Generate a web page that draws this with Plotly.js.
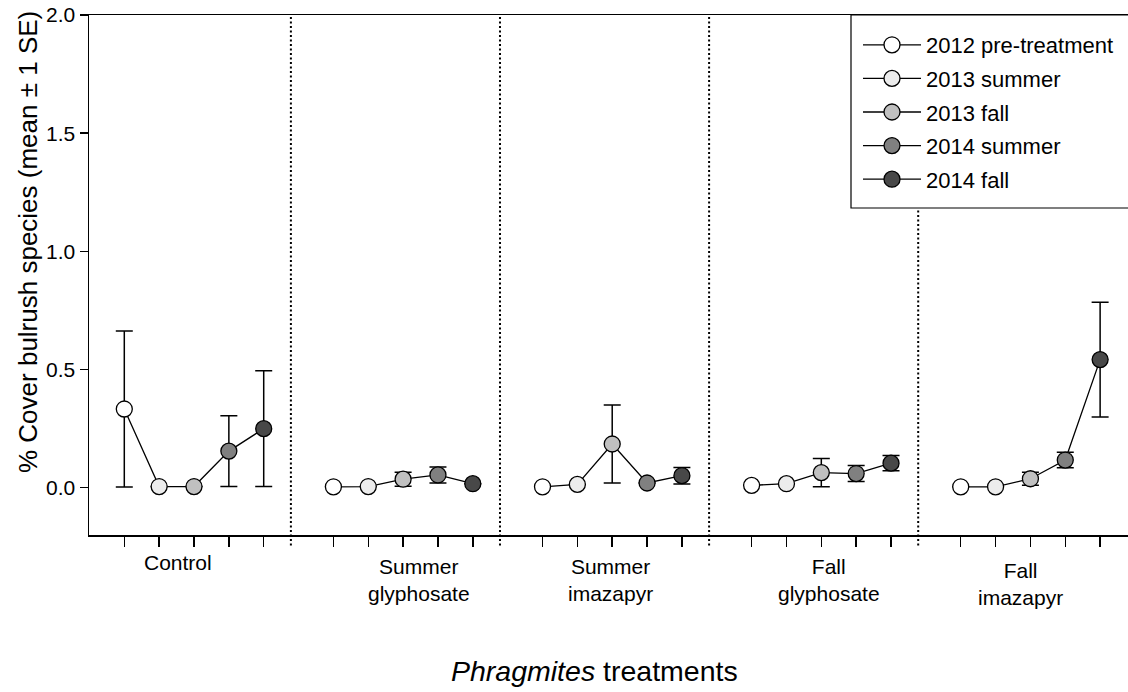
<!DOCTYPE html>
<html>
<head>
<meta charset="utf-8">
<script src="https://cdn.plot.ly/plotly-3.0.1.min.js"></script>
<style>html,body{margin:0;padding:0;background:#fff;}#chart{width:1128px;height:692px;}</style>
</head>
<body>
<div id="chart"></div>
<script>
// ---- data ----
const treatments = ["Control", "Summer glyphosate", "Summer imazapyr", "Fall glyphosate", "Fall imazapyr"];
const treatmentLabels = ["Control", "Summer<br>glyphosate", "Summer<br>imazapyr", "Fall<br>glyphosate", "Fall<br>imazapyr"];
const years = ["2012 pre-treatment", "2013 summer", "2013 fall", "2014 summer", "2014 fall"];
// mean % cover, one array per year, in treatment order
const mean2012pre  = [0.333, 0.004, 0.004, 0.010, 0.004];
const mean2013sum  = [0.005, 0.005, 0.014, 0.017, 0.004];
const mean2013fall = [0.005, 0.036, 0.185, 0.064, 0.038];
const mean2014sum  = [0.155, 0.054, 0.020, 0.060, 0.117];
const mean2014fall = [0.250, 0.017, 0.051, 0.104, 0.542];
// ±1 SE
const se2012pre  = [0.330, 0, 0, 0, 0];
const se2013sum  = [0, 0, 0, 0, 0];
const se2013fall = [0, 0.030, 0.165, 0.060, 0.028];
const se2014sum  = [0.150, 0.034, 0, 0.034, 0.033];
const se2014fall = [0.245, 0, 0.035, 0.032, 0.243];
const yTickVals = [0, 0.5, 1.0, 1.5, 2.0];
const yTickText = ["0.0", "0.5", "1.0", "1.5", "2.0"];

// ---- styling / layout helpers ----
const means = [mean2012pre, mean2013sum, mean2013fall, mean2014sum, mean2014fall];
const ses = [se2012pre, se2013sum, se2013fall, se2014sum, se2014fall];
const fills = ["#ffffff", "#ececec", "#c0c0c0", "#808080", "#484848"];
const FONT = "Liberation Sans, Arial, Helvetica, sans-serif";
const GROUP_STEP = 6;             // 5 positions + 1 empty slot between treatments
const base = t => t * GROUP_STEP;

const W = 1128, H = 692, ML = 89, MT = 15, MB = 157;
const plotW = W - ML, plotH = H - MT - MB;
const py = ypix => (H - MB - ypix) / plotH;   // pixel row -> paper y
const px = xpix => (xpix - ML) / plotW;       // pixel column -> paper x

const traces = [];
// connecting line within each treatment
treatments.forEach((name, t) => {
  traces.push({
    type: "scatter", mode: "lines",
    x: years.map((_, k) => base(t) + k),
    y: years.map((_, k) => means[k][t]),
    line: {color: "#000", width: 1.3},
    showlegend: false, hoverinfo: "skip"
  });
});
// one marker series per sampling time (legend entries)
years.forEach((yr, k) => {
  const xs = [], ys = [], es = [];
  treatments.forEach((_, t) => {
    if (t > 0) { xs.push(null); ys.push(null); es.push(null); }
    xs.push(base(t) + k); ys.push(means[k][t]); es.push(ses[k][t]);
  });
  traces.push({
    type: "scatter", mode: "lines+markers", name: yr,
    x: xs, y: ys, connectgaps: false,
    legendgroup: "g" + k,
    line: {color: "#000", width: 1.3},
    marker: {size: 16, color: fills[k], line: {color: "#000", width: 1.3}},
    error_y: {type: "data", array: es, symmetric: true, visible: true,
              color: "#000", thickness: 1.5, width: 8.5}
  });
});

// dotted separators between treatments
const shapes = [];
for (let t = 1; t < treatments.length; t++) {
  shapes.push({
    type: "line", xref: "x", yref: "paper",
    x0: base(t) - 1.22, x1: base(t) - 1.22, y0: -0.02, y1: 1,
    line: {color: "#000", width: 2, dash: "2px,2.5px"}, layer: "below"
  });
}
// legend frame (opaque, covers the separator behind the legend)
shapes.push({
  type: "rect", xref: "paper", yref: "paper",
  x0: px(851), x1: px(1140), y0: py(208), y1: 1,
  fillcolor: "#fff", line: {color: "#000", width: 1.2}, layer: "above"
});

// treatment labels under the axis
const labelShift = [-0.47, 0.46, -0.06, 0.23, -0.29];
const labelCenterRow = [562.5, 580, 580, 580, 584];
const annotations = [];
treatmentLabels.forEach((txt, t) => {
  annotations.push({
    xref: "x", yref: "paper", x: base(t) + 2 + labelShift[t], y: py(labelCenterRow[t]),
    text: txt, showarrow: false, xanchor: "center", yanchor: "middle", align: "center",
    font: {family: FONT, size: 21, color: "#000"}
  });
});
// axis titles
annotations.push({
  xref: "paper", yref: "paper", x: px(594), y: py(671),
  text: "<i>Phragmites</i> treatments", showarrow: false,
  xanchor: "center", yanchor: "middle",
  font: {family: FONT, size: 28.5, color: "#000"}
});
annotations.push({
  xref: "paper", yref: "paper", x: px(28), y: py(242),
  text: "% Cover bulrush species (mean ± 1 SE)", showarrow: false, textangle: -90,
  xanchor: "center", yanchor: "middle",
  font: {family: FONT, size: 26, color: "#000"}
});

const tickVals = [];
treatments.forEach((_, t) => years.forEach((_, k) => tickVals.push(base(t) + k)));

const layout = {
  width: W, height: H,
  margin: {l: ML, r: 0, t: MT, b: MB, pad: 0},
  paper_bgcolor: "#fff", plot_bgcolor: "#fff",
  font: {family: FONT, color: "#000"},
  showlegend: true,
  xaxis: {
    range: [-1.013, 28.8], tickvals: tickVals, ticktext: tickVals.map(() => ""),
    ticks: "outside", ticklen: 10, tickwidth: 1.5, tickcolor: "#000",
    showline: true, linecolor: "#000", linewidth: 1.5, mirror: true,
    showgrid: false, zeroline: false, fixedrange: true
  },
  yaxis: {
    range: [-0.2, 2.0], tickvals: yTickVals, ticktext: yTickText,
    ticks: "outside", ticklen: 8, tickwidth: 1.5, tickcolor: "#000",
    tickfont: {family: FONT, size: 21, color: "#000"},
    showline: true, linecolor: "#000", linewidth: 1.5,
    showgrid: false, zeroline: false, fixedrange: true
  },
  legend: {
    x: px(858), y: py(24), xanchor: "left", yanchor: "top",
    bgcolor: "rgba(0,0,0,0)", borderwidth: 0,
    font: {family: FONT, size: 22, color: "#000"},
    itemwidth: 58, traceorder: "grouped", tracegroupgap: 2
  },
  shapes: shapes,
  annotations: annotations
};

Plotly.newPlot("chart", traces, layout, {displayModeBar: false, staticPlot: true});
</script>
</body>
</html>
